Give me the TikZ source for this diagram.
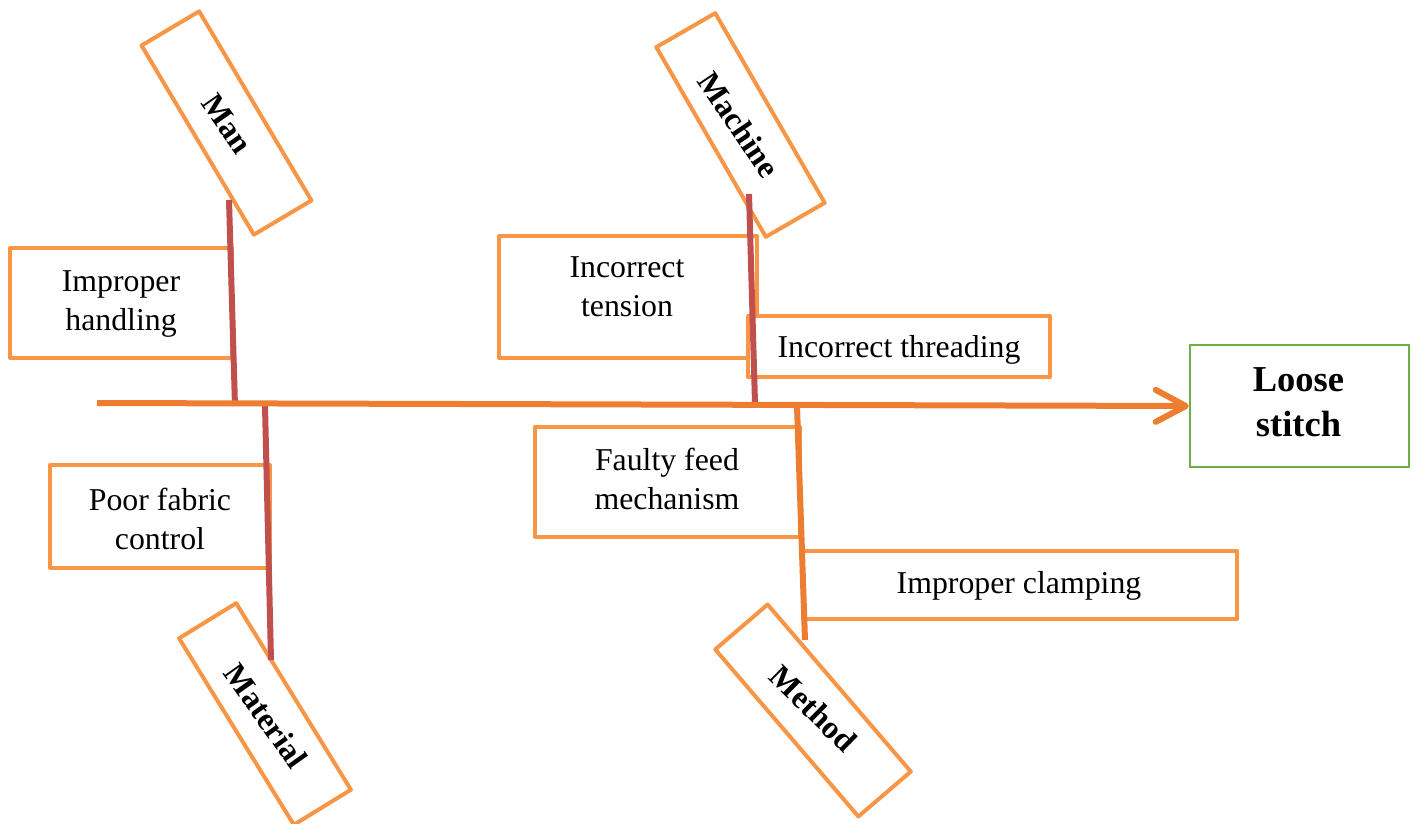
\documentclass[tikz,border=0pt]{standalone}
\usepackage{fontspec}
\setmainfont{Liberation Serif}
\usetikzlibrary{arrows.meta}
\definecolor{boxorange}{HTML}{F79646}
\definecolor{spineorange}{HTML}{ED7D31}
\definecolor{bonered}{HTML}{C0504D}
\definecolor{effectgreen}{HTML}{70AD47}
\begin{document}
\begin{tikzpicture}[x=1pt,y=-1pt,
  causebox/.style={draw=boxorange, line width=4pt, fill=white, inner sep=0pt, line join=round},
  causetext/.style={align=center, inner sep=0pt, font=\fontsize{31.8}{39}\selectfont},
  cattext/.style={inner sep=0pt, font=\bfseries\fontsize{32}{38}\selectfont},
  bone/.style={draw=bonered, line width=6pt},
  spine/.style={draw=spineorange, line width=6pt, -{Straight Barb[length=30pt,width=32pt,round]}},
]
\useasboundingbox (0,0) rectangle (1418,824);

% category boxes (tilted)
\node[causebox, rotate=-59.3, minimum width=220, minimum height=67] (manbox) at (226.5,123) {};
\node[cattext, rotate=-55] (man) at (227,124) {Man};
\node[causebox, rotate=-60, minimum width=219, minimum height=68] (machinebox) at (740.5,125) {};
\node[cattext, rotate=-56] (machine) at (739,124.5) {Machine};
\node[causebox, rotate=-58.4, minimum width=219, minimum height=67] (materialbox) at (265,714) {};
\node[cattext, rotate=-54.5] (material) at (266,716) {Material};
\node[causebox, rotate=-49.4, minimum width=220, minimum height=69] (methodbox) at (813,710.5) {};
\node[cattext, rotate=-44.5] (method) at (813.5,708.5) {Method};

% cause boxes
\node[causebox, minimum width=222, minimum height=110] (handlingbox) at (121,303) {};
\node[causetext] (handling) at (121,304) {Improper\\handling};
\node[causebox, minimum width=258, minimum height=122] (tensionbox) at (628,297) {};
\node[causetext] (tension) at (627,287) {Incorrect\\tension};
\node[causebox, minimum width=302, minimum height=61] (threadingbox) at (899,346.5) {};
\node[causetext] (threading) at (899,350) {Incorrect threading};
\node[causebox, minimum width=220, minimum height=103] (fabricbox) at (160,516.5) {};
\node[causetext] (fabric) at (160,519) {Poor fabric\\control};
\node[causebox, minimum width=265, minimum height=110] (feedbox) at (667.5,482) {};
\node[causetext] (feed) at (667,479) {Faulty feed\\mechanism};
\node[causebox, minimum width=434, minimum height=68] (clampingbox) at (1020,585) {};
\node[causetext] (clamping) at (1019,586) {Improper clamping};

% effect
\node[draw=effectgreen, line width=2.5pt, fill=white, minimum width=219, minimum height=122,
      inner sep=0pt, align=center, font=\bfseries\fontsize{36.5}{45}\selectfont] (effect) at (1299.5,406) {};
\node[align=center, inner sep=0pt, font=\bfseries\fontsize{36.5}{45}\selectfont] (effecttext) at (1298.5,402) {Loose\\stitch};

% bones
\coordinate (mantop) at (229,200);
\coordinate (manfoot) at (235,406);
\coordinate (matfoot) at (265,406);
\coordinate (matend) at (271,660);
\coordinate (machtop) at (749,194);
\coordinate (machfoot) at (755,403);
\coordinate (methfoot) at (797,406);
\coordinate (methend) at (805,640);
\coordinate (tail) at (97,403);

\draw[bone] (mantop) -- (manfoot);
\draw[bone] (matfoot) -- (matend);
\draw[bone] (machtop) -- (machfoot);
\draw[bone, draw=spineorange] (methfoot) -- (methend);

% spine
\draw[spine] (tail) -- (effect.west);
\end{tikzpicture}
\end{document}
